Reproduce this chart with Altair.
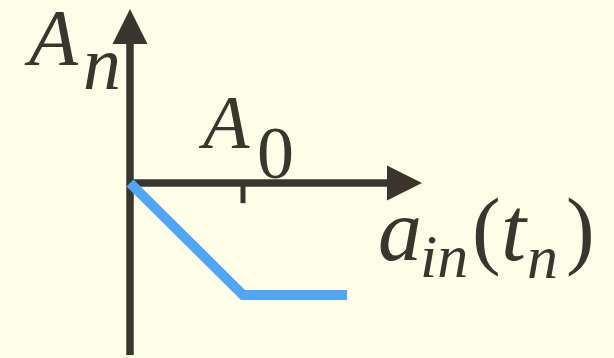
import altair as alt
import pandas as pd

# Piecewise response: A_n versus a_in(t_n)
line_x = [0.0, 1.0, 1.92]
line_y = [0.0, -1.0, -1.0]

# Axis extents (data units) and the A0 tick
yaxis_x = [0.0, 0.0]
yaxis_y = [-1.536, 1.30]
xaxis_x = [0.0, 2.36]
xaxis_y = [0.0, 0.0]
tick_x = [1.0, 1.0]
tick_y = [0.0, -0.18]

# Arrowhead anchors
arrow_x = [2.429]
arrow_xy = [0.0]
arrow_y = [1.397]
arrow_yx = [0.0]

BG = "#FEFEE8"
INK = "#3A362E"
BLUE = "#50A6F5"
SERIF = "Liberation Serif"

xs = alt.Scale(domain=[-130 / 113, 484 / 113], nice=False, zero=False)
ys = alt.Scale(domain=[-175 / 112, 183 / 112], nice=False, zero=False)


def seg(xv, yv, color, width):
    df = pd.DataFrame({"x": xv, "y": yv, "o": range(len(xv))})
    return alt.Chart(df).mark_line(
        color=color, strokeWidth=width, strokeCap="butt", strokeJoin="miter"
    ).encode(
        x=alt.X("x:Q", scale=xs, axis=None),
        y=alt.Y("y:Q", scale=ys, axis=None),
        order="o:Q",
    )


def arrow(xv, yv, path):
    df = pd.DataFrame({"x": xv, "y": yv})
    return alt.Chart(df).mark_point(
        shape=path, size=1225, filled=True, color=INK, opacity=1, strokeWidth=0
    ).encode(
        x=alt.X("x:Q", scale=xs, axis=None),
        y=alt.Y("y:Q", scale=ys, axis=None),
    )


one = pd.DataFrame({"k": [0]})


def label(text, x, y, size, italic=True):
    return alt.Chart(one).mark_text(
        text=text, font=SERIF, fontSize=size,
        fontStyle="italic" if italic else "normal", fontWeight="normal",
        align="left", baseline="alphabetic", color=INK,
    ).encode(x=alt.value(x), y=alt.value(y))


layers = [
    seg(yaxis_x, yaxis_y, INK, 7.5),
    seg(xaxis_x, xaxis_y, INK, 7.5),
    seg(tick_x, tick_y, INK, 5),
    arrow(arrow_x, arrow_xy, "M-1,-1L1,0L-1,1Z"),
    arrow(arrow_yx, arrow_y, "M0,-1L1,1L-1,1Z"),
    seg(line_x, line_y, BLUE, 10),
    label("A", 29, 65, 80),
    label("n", 83, 89, 76),
    label("A", 203, 148, 76),
    label("0", 257, 178, 74, italic=False),
    label("a", 378, 260, 88),
    label("in", 420, 277, 62),
    label("(", 472, 258, 86, italic=False),
    label("t", 501, 260, 90),
    label("n", 527, 278, 62),
    label(")", 566, 258, 86, italic=False),
]

chart = alt.layer(*layers).properties(
    width=614, height=358, background=BG, padding=0,
    autosize=alt.AutoSizeParams(type="none"),
).configure_view(stroke=None)

chart.save("out.html", embed_options={"renderer": "svg", "actions": False})
